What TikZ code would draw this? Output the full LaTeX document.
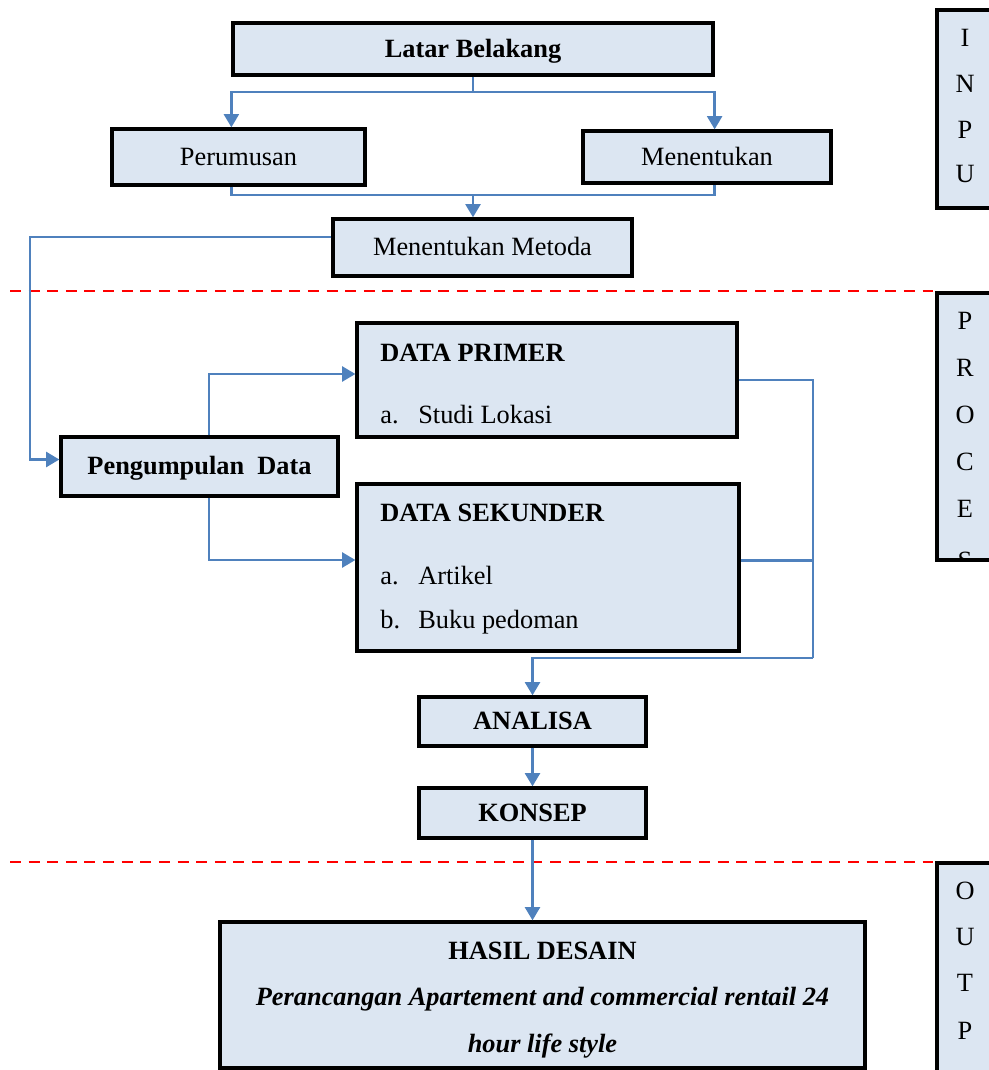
\documentclass[tikz,border=0pt]{standalone}
\usepackage{fontspec}
\setmainfont{Liberation Serif}
\usetikzlibrary{positioning,arrows.meta}
\definecolor{boxfill}{HTML}{DCE6F2}
\definecolor{linkblue}{HTML}{4F81BD}

\begin{document}
\begin{tikzpicture}[
  x=0.02cm, y=-0.02cm,
  box/.style={rectangle, draw, line width=1.9pt, fill=boxfill, align=center, inner sep=0pt, text height=13pt, text depth=3.5pt, font=\fontsize{15}{18}\selectfont},
  side/.style={draw, line width=1.9pt, fill=boxfill},
  letter/.style={font=\fontsize{15}{18}\selectfont},
  item/.style={anchor=west, inner sep=0pt, font=\fontsize{15}{18}\selectfont},
  link/.style={draw=linkblue, line width=1.4pt},
  arrow/.style={link, -{Triangle[length=7.5pt,width=8.5pt]}},
  sep/.style={red, line width=1.6pt, dash pattern=on 6.2pt off 4.4pt}
]
\useasboundingbox (0,0) rectangle (988,1070);

% Input stage
\node[box, minimum width=9.6cm, minimum height=1.04cm] (latar) at (473,49) {\textbf{Latar Belakang}};
\node[box, minimum width=5.06cm, minimum height=1.12cm] (perumusan) at (238.5,157) {Perumusan};
\node[box, minimum width=4.96cm, minimum height=1.04cm] (menentukan) at (707,157) {Menentukan};
\node[box, minimum width=5.98cm, minimum height=1.14cm] (metoda) at (482.5,247.5) {Menentukan Metoda};

% Process stage
\node[box, minimum width=7.6cm, minimum height=2.28cm] (primer) at (547,380) {};
\node[item] (primer-title) at (380,353) {\textbf{DATA PRIMER}};
\node[item] (primer-a) at (380,415) {\makebox[0.76cm][l]{a.}Studi Lokasi};

\node[box, minimum width=5.54cm, minimum height=1.18cm] (pengumpulan) at (199.5,466.5) {\textbf{Pengumpulan\ \ Data}};

\node[box, minimum width=7.64cm, minimum height=3.34cm] (sekunder) at (548,567.5) {};
\node[item] (sekunder-title) at (380,513) {\textbf{DATA SEKUNDER}};
\node[item] (sekunder-a) at (380,576) {\makebox[0.76cm][l]{a.}Artikel};
\node[item] (sekunder-b) at (380,622) {\makebox[0.76cm][l]{b.}Buku pedoman};

\node[box, minimum width=4.54cm, minimum height=0.98cm] (analisa) at (532.5,721.5) {\textbf{ANALISA}};
\node[box, minimum width=4.54cm, minimum height=1.0cm] (konsep) at (532.5,813) {\textbf{KONSEP}};

% Output stage
\node[box, minimum width=12.9cm, minimum height=2.92cm] (hasil) at (542.5,995) {};
\node[align=center, font=\fontsize{15}{26.5}\selectfont] (hasil-text) at (542.5,1000) {\textbf{HASIL DESAIN}\\
  \textbf{\textit{Perancangan Apartement and commercial rentail 24}}\\
  \textbf{\textit{hour life style}}};

% Stage labels on the right
\draw[side] (937,10) rectangle (1000,208);
\foreach \l/\y [count=\i] in {I/38, N/84, P/130, U/174}
  \node[letter] (in-\i) at (965,\y) {\l};

\draw[side] (937,293) rectangle (1000,560);
\begin{scope}
  \clip (938,294) rectangle (1000,559);
  \foreach \l/\y [count=\i] in {P/321, R/368, O/415, C/462, E/509, S/561}
    \node[letter] (proc-\i) at (965,\y) {\l};
\end{scope}

\draw[side] (937,863) rectangle (1000,1075);
\foreach \l/\y [count=\i] in {O/891, U/937, T/983, P/1031}
  \node[letter] (out-\i) at (965,\y) {\l};

% Stage separators
\draw[sep] (10,291) -- (937,291);
\draw[sep] (10,862) -- (937,862);

% Connectors
\coordinate (split) at (473,92);
\coordinate (join) at (473,195);
\coordinate (bend) at (30,237);
\coordinate (merge) at (813,658);

\draw[link] (latar) -- (split);
\draw[arrow] (split) -| (perumusan.north -| latar.west);
\draw[arrow] (split) -| (menentukan.north -| latar.east);
\draw[link] (perumusan.south -| latar.west) |- (join) -| (menentukan.south -| latar.east);
\draw[arrow] (join) -- (join |- metoda.north);

\draw[arrow] (metoda.west |- bend) -- (bend) |- ([yshift=0.14cm]pengumpulan.west);
\draw[arrow] ([xshift=0.19cm]pengumpulan.north) |- ([yshift=0.12cm]primer.west);
\draw[arrow] ([xshift=0.19cm]pengumpulan.south) |- ([yshift=0.15cm]sekunder.west);

\draw[link] (primer.east) -| (merge);
\draw[link] ([yshift=0.14cm]sekunder.east) -- ([yshift=0.14cm]sekunder.east -| merge);
\draw[arrow] (merge) -| (analisa.north);
\draw[arrow] (analisa) -- (konsep);
\draw[arrow] (konsep) -- (konsep |- hasil.north);

\end{tikzpicture}
\end{document}
